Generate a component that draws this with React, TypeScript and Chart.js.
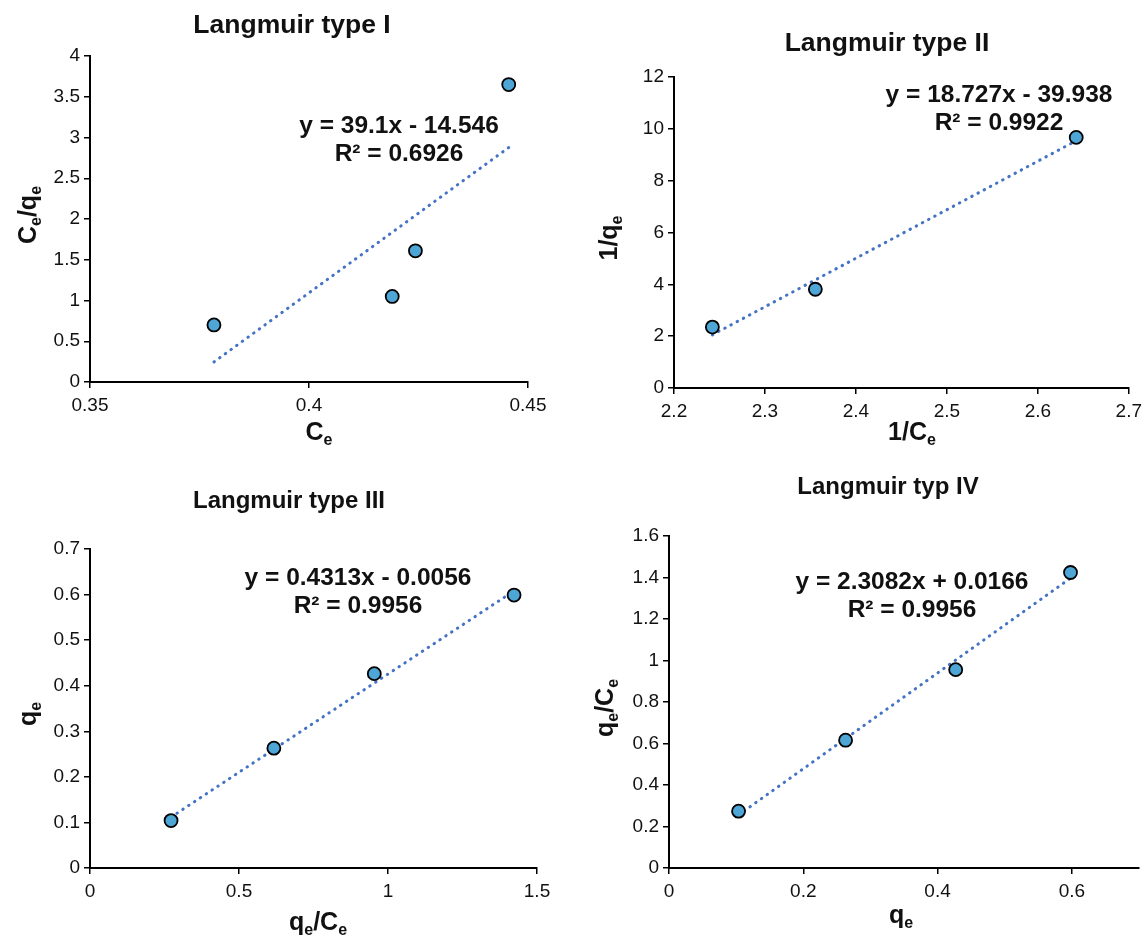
import React, { useEffect, useRef } from "react";
import { Chart, registerables } from "chart.js";

Chart.register(...registerables);

const W = 1148;
const H = 937;
const FONT = "'Liberation Sans', Arial, Helvetica, sans-serif";

// ---------- Langmuir type I ----------
const typeI_x = [0.3783, 0.419, 0.4243, 0.4456]; // Ce
const typeI_y = [0.7, 1.05, 1.61, 3.65]; // Ce/qe
const typeI_xRange = [0.35, 0.45];
const typeI_yRange = [0, 4];
const typeI_xTicks = [0.35, 0.4, 0.45];
const typeI_yTicks = [0, 0.5, 1, 1.5, 2, 2.5, 3, 3.5, 4];
const typeI_fit = [39.1, -14.546];
const typeI_eq = ["y = 39.1x - 14.546", "R² = 0.6926"];

// ---------- Langmuir type II ----------
const typeII_x = [2.2422, 2.3554, 2.6422]; // 1/Ce
const typeII_y = [2.35, 3.81, 9.67]; // 1/qe
const typeII_xRange = [2.2, 2.7];
const typeII_yRange = [0, 12];
const typeII_xTicks = [2.2, 2.3, 2.4, 2.5, 2.6, 2.7];
const typeII_yTicks = [0, 2, 4, 6, 8, 10, 12];
const typeII_fit = [18.727, -39.938];
const typeII_eq = ["y = 18.727x - 39.938", "R² = 0.9922"];

// ---------- Langmuir type III ----------
const typeIII_x = [0.272, 0.617, 0.954, 1.423]; // qe/Ce
const typeIII_y = [0.104, 0.263, 0.4265, 0.599]; // qe
const typeIII_xRange = [0, 1.5];
const typeIII_yRange = [0, 0.7];
const typeIII_xTicks = [0, 0.5, 1, 1.5];
const typeIII_yTicks = [0, 0.1, 0.2, 0.3, 0.4, 0.5, 0.6, 0.7];
const typeIII_fit = [0.4313, -0.0056];
const typeIII_eq = ["y = 0.4313x - 0.0056", "R² = 0.9956"];

// ---------- Langmuir typ IV ----------
const typeIV_x = [0.1036, 0.263, 0.427, 0.598]; // qe
const typeIV_y = [0.274, 0.616, 0.956, 1.424]; // qe/Ce
const typeIV_xRange = [0, 0.7];
const typeIV_yRange = [0, 1.6];
const typeIV_xTicks = [0, 0.2, 0.4, 0.6];
const typeIV_yTicks = [0, 0.2, 0.4, 0.6, 0.8, 1, 1.2, 1.4, 1.6];
const typeIV_fit = [2.3082, 0.0166];
const typeIV_eq = ["y = 2.3082x + 0.0166", "R² = 0.9956"];

type Panel = {
  title: string;
  xs: number[];
  ys: number[];
  xRange: number[];
  yRange: number[];
  xTicks: number[];
  yTicks: number[];
  fit: number[];
  eq: string[];
  xTitle: string;
  yTitle: string;
  look: {
    area: number[]; // left, top, right, bottom (page px)
    titlePos: number[];
    titleSize: number;
    eqPos: number[];
    xTitlePos: number[];
    yTitlePos: number[];
  };
};

const panels: Panel[] = [
  {
    title: "Langmuir type I",
    xs: typeI_x, ys: typeI_y, xRange: typeI_xRange, yRange: typeI_yRange,
    xTicks: typeI_xTicks, yTicks: typeI_yTicks, fit: typeI_fit, eq: typeI_eq,
    xTitle: "C_{e}", yTitle: "C_{e}/q_{e}",
    look: { area: [90, 56, 528, 382], titlePos: [292, 26], titleSize: 26.5, eqPos: [399, 126], xTitlePos: [319, 431], yTitlePos: [27, 215] },
  },
  {
    title: "Langmuir type II",
    xs: typeII_x, ys: typeII_y, xRange: typeII_xRange, yRange: typeII_yRange,
    xTicks: typeII_xTicks, yTicks: typeII_yTicks, fit: typeII_fit, eq: typeII_eq,
    xTitle: "1/C_{e}", yTitle: "1/q_{e}",
    look: { area: [674, 77, 1135, 388], titlePos: [887, 44], titleSize: 26.5, eqPos: [999, 95], xTitlePos: [912, 431], yTitlePos: [608, 238] },
  },
  {
    title: "Langmuir type III",
    xs: typeIII_x, ys: typeIII_y, xRange: typeIII_xRange, yRange: typeIII_yRange,
    xTicks: typeIII_xTicks, yTicks: typeIII_yTicks, fit: typeIII_fit, eq: typeIII_eq,
    xTitle: "q_{e}/C_{e}", yTitle: "q_{e}",
    look: { area: [90, 549, 537, 868], titlePos: [289, 501], titleSize: 24, eqPos: [358, 578], xTitlePos: [318, 921], yTitlePos: [27, 714] },
  },
  {
    title: "Langmuir typ IV",
    xs: typeIV_x, ys: typeIV_y, xRange: typeIV_xRange, yRange: typeIV_yRange,
    xTicks: typeIV_xTicks, yTicks: typeIV_yTicks, fit: typeIV_fit, eq: typeIV_eq,
    xTitle: "q_{e}", yTitle: "q_{e}/C_{e}",
    look: { area: [669, 536, 1139, 868], titlePos: [888, 487], titleSize: 24, eqPos: [912, 582], xTitlePos: [901, 914], yTitlePos: [604, 708] },
  },
];

function parseRich(text: string) {
  const out: { t: string; sub: boolean }[] = [];
  const re = /_\{([^}]*)\}/g;
  let last = 0;
  let m: RegExpExecArray | null;
  while ((m = re.exec(text))) {
    if (m.index > last) out.push({ t: text.slice(last, m.index), sub: false });
    out.push({ t: m[1], sub: true });
    last = m.index + m[0].length;
  }
  if (last < text.length) out.push({ t: text.slice(last), sub: false });
  return out;
}

function drawRich(ctx: CanvasRenderingContext2D, text: string, x: number, y: number, size: number, rotate: boolean) {
  const parts = parseRich(text);
  const subSize = Math.round(size * 0.64);
  let total = 0;
  const widths = parts.map((p) => {
    ctx.font = `bold ${p.sub ? subSize : size}px ${FONT}`;
    const w = ctx.measureText(p.t).width;
    total += w;
    return w;
  });
  ctx.save();
  ctx.translate(x, y);
  if (rotate) ctx.rotate(-Math.PI / 2);
  ctx.textAlign = "left";
  ctx.textBaseline = "alphabetic";
  ctx.fillStyle = "#111";
  let cx = -total / 2;
  const base = size * 0.36;
  parts.forEach((p, i) => {
    ctx.font = `bold ${p.sub ? subSize : size}px ${FONT}`;
    ctx.fillText(p.t, cx, base + (p.sub ? size * 0.2 : 0));
    cx += widths[i];
  });
  ctx.restore();
}

const textPlugin = {
  id: "panelText",
  afterDraw(chart: any, _args: any, opts: any) {
    const p: Panel = opts.panel;
    if (!p) return;
    const ctx: CanvasRenderingContext2D = chart.ctx;
    const L = p.look;
    ctx.save();
    ctx.fillStyle = "#111";
    ctx.textAlign = "center";
    ctx.textBaseline = "middle";
    ctx.font = `bold ${L.titleSize}px ${FONT}`;
    ctx.fillText(p.title, L.titlePos[0], L.titlePos[1]);
    ctx.font = `bold 24.5px ${FONT}`;
    p.eq.forEach((line, i) => {
      ctx.fillText(line, L.eqPos[0], L.eqPos[1] + i * 28);
    });
    ctx.restore();
    drawRich(ctx, p.xTitle, L.xTitlePos[0], L.xTitlePos[1], 25, false);
    drawRich(ctx, p.yTitle, L.yTitlePos[0], L.yTitlePos[1], 25, true);
  },
};

const YW = 70;
const XH = 50;

function fmt(v: number) {
  return String(Number(Number(v).toFixed(3)));
}

function makeConfig(p: Panel): any {
  const [l, t, r, b] = p.look.area;
  const pts = p.xs.map((x, i) => ({ x, y: p.ys[i] }));
  const x0 = Math.min(...p.xs);
  const x1 = Math.max(...p.xs);
  const trend = [x0, x1].map((x) => ({ x, y: p.fit[0] * x + p.fit[1] }));
  const tickFont = { family: FONT, size: 19 };
  const axisCommon = {
    type: "linear",
    grid: { drawOnChartArea: false, drawTicks: true, tickLength: 6, color: "#000", lineWidth: 1.5 },
    border: { display: true, color: "#000", width: 2 },
  };
  return {
    type: "scatter",
    data: {
      datasets: [
        {
          type: "scatter",
          data: pts,
          pointRadius: 6.5,
          pointHoverRadius: 6.5,
          pointBackgroundColor: "#4DA6D6",
          pointBorderColor: "#000",
          pointBorderWidth: 1.8,
        },
        {
          type: "line",
          data: trend,
          borderColor: "#4472C4",
          borderWidth: 3,
          borderDash: [0.5, 6.5],
          borderCapStyle: "round",
          pointRadius: 0,
          fill: false,
          tension: 0,
        },
      ],
    },
    options: {
      responsive: false,
      animation: false,
      devicePixelRatio: 1,
      events: [],
      layout: { padding: { left: l - YW, top: t, right: W - r, bottom: H - b - XH } },
      plugins: {
        legend: { display: false },
        tooltip: { enabled: false },
        title: { display: false },
        panelText: { panel: p },
      },
      scales: {
        x: {
          ...axisCommon,
          min: p.xRange[0],
          max: p.xRange[1],
          afterBuildTicks: (s: any) => { s.ticks = p.xTicks.map((v) => ({ value: v })); },
          afterFit: (s: any) => { s.height = XH; },
          ticks: { font: tickFont, color: "#111", padding: 6, maxRotation: 0, autoSkip: false, callback: (v: number) => fmt(v) },
        },
        y: {
          ...axisCommon,
          min: p.yRange[0],
          max: p.yRange[1],
          afterBuildTicks: (s: any) => { s.ticks = p.yTicks.map((v) => ({ value: v })); },
          afterFit: (s: any) => { s.width = YW; },
          ticks: { font: tickFont, color: "#111", padding: 4, autoSkip: false, callback: (v: number) => fmt(v) },
        },
      },
    },
    plugins: [textPlugin],
  };
}

export default function App() {
  const refs = useRef<(HTMLCanvasElement | null)[]>([]);
  useEffect(() => {
    document.body.style.margin = "0";
    document.body.style.background = "#fff";
    const charts = panels.map((p, i) => new Chart(refs.current[i] as HTMLCanvasElement, makeConfig(p)));
    return () => charts.forEach((c) => c.destroy());
  }, []);
  return (
    <div style={{ position: "absolute", left: 0, top: 0, width: W, height: H, background: "#fff" }}>
      {panels.map((p, i) => (
        <canvas
          key={p.title}
          ref={(el) => { refs.current[i] = el; }}
          width={W}
          height={H}
          style={{ position: "absolute", left: 0, top: 0, width: W, height: H }}
        />
      ))}
    </div>
  );
}
